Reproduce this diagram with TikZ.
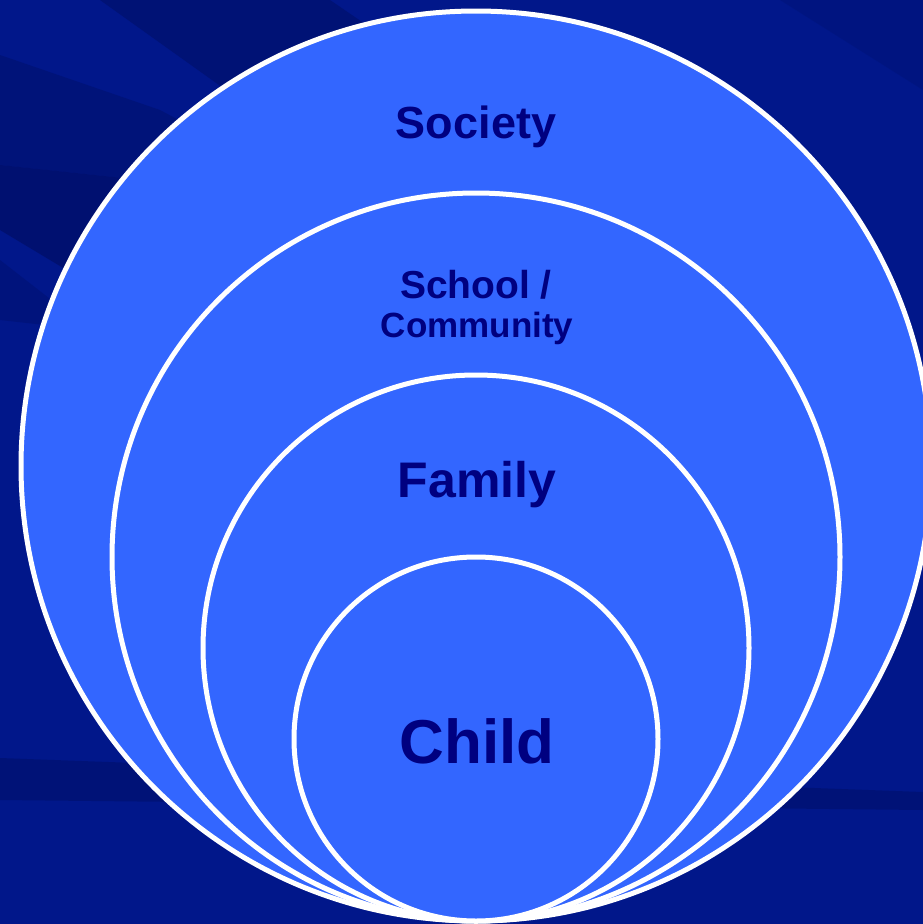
\documentclass[tikz,border=0pt]{standalone}
\usepackage{fontspec}
\setmainfont{Liberation Sans}

\definecolor{bgblue}{HTML}{01178A}
\definecolor{darkstreak}{HTML}{000C5C}
\definecolor{ringblue}{HTML}{3366FF}
\definecolor{labelnavy}{HTML}{000080}

\tikzset{
  ring/.style={fill=ringblue, draw=white, line width=5pt},
  ringlabel/.style={text=labelnavy, anchor=base, inner sep=0pt, font=\bfseries}
}

\begin{document}
\begin{tikzpicture}[x=1pt, y=-1pt]

\useasboundingbox (0, 0) rectangle (923, 924);
\clip (0, 0) rectangle (923, 924);

% draw the background
\fill[bgblue] (0, 0) rectangle (923, 924);
\fill[darkstreak, opacity=0.45] (100, 0) -- (330, 0) -- (520, 130) -- (380, 200) -- cycle;
\fill[darkstreak, opacity=0.35] (0, 55) -- (160, 110) -- (330, 200) -- (0, 165) -- cycle;
\fill[darkstreak, opacity=0.55] (0, 165) -- (330, 200) -- (100, 290) -- (0, 230) -- cycle;
\fill[darkstreak, opacity=0.3] (0, 260) -- (90, 330) -- (0, 320) -- cycle;
\fill[darkstreak, opacity=0.4] (0, 758) -- (923, 792) -- (923, 810) -- (0, 800) -- cycle;
\fill[darkstreak, opacity=0.2] (780, 0) -- (923, 0) -- (923, 90) -- cycle;

% draw the rings, outer first
\draw[ring] (476, 466) circle (455);
\draw[ring] (476, 557) circle (364);
\draw[ring] (476, 648) circle (273);
\draw[ring] (476, 739) circle (182);

% draw the labels
\node[ringlabel, font=\bfseries\fontsize{45}{49}\selectfont] (society) at (476, 138) {Society};
\node[ringlabel, font=\bfseries\fontsize{39}{43}\selectfont] (school) at (476, 298) {School /};
\node[ringlabel, font=\bfseries\fontsize{35}{39}\selectfont] (community) at (477, 337) {Community};
\node[ringlabel, font=\bfseries\fontsize{50}{55}\selectfont] (family) at (477, 497) {Family};
\node[ringlabel, font=\bfseries\fontsize{62}{68}\selectfont] (child) at (477, 763) {Child};

\end{tikzpicture}
\end{document}
